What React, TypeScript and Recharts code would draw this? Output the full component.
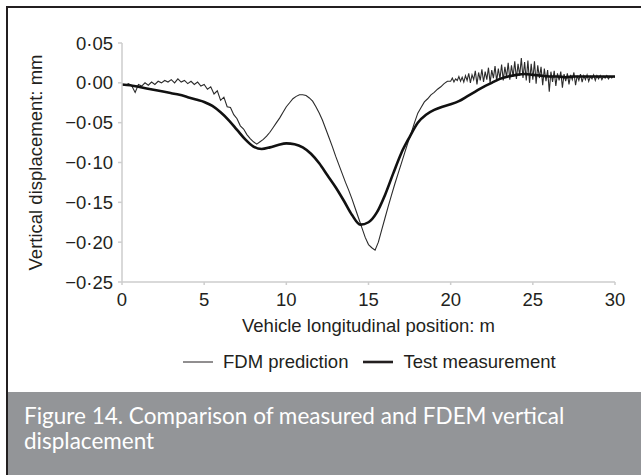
import { LineChart, Line, XAxis, YAxis, Legend, Label } from "recharts";

// FDM prediction, part 1: 0 – 19.8 m every 0.2 m
const fdmStartA = 0;
const fdmStepA = 0.2;
const fdmValuesA = [
  -0.002, -0.003, -0.001, -0.004, -0.012, -0.002, -0.004, 0.000, -0.003, 0.001,
  -0.002, 0.002, 0.000, 0.003, 0.001, 0.004, 0.000, 0.005, 0.001, 0.003,
  -0.001, 0.002, -0.002, 0.001, -0.004, -0.002, -0.008, -0.005, -0.014, -0.010,
  -0.022, -0.018, -0.030, -0.031, -0.040, -0.045, -0.054, -0.058, -0.065, -0.070,
  -0.074, -0.077, -0.074, -0.071, -0.067, -0.062, -0.056, -0.050, -0.044, -0.037,
  -0.030, -0.025, -0.020, -0.017, -0.015, -0.015, -0.016, -0.019, -0.023, -0.030,
  -0.038, -0.047, -0.058, -0.069, -0.080, -0.092, -0.103, -0.114, -0.125, -0.135,
  -0.146, -0.158, -0.170, -0.182, -0.194, -0.203, -0.207, -0.210, -0.200, -0.185,
  -0.170, -0.155, -0.141, -0.127, -0.114, -0.101, -0.088, -0.075, -0.063, -0.050,
  -0.038, -0.031, -0.024, -0.020, -0.015, -0.012, -0.008, -0.005, -0.001, 0.002,
];

// FDM prediction, part 2: 20 – 30 m every 0.1 m (noisy tail)
const fdmStartB = 20;
const fdmStepB = 0.1;
const fdmValuesB = [
  0.002, 0.006, 0.001, 0.005, 0.003, 0.008, 0.002, 0.007, 0.001, 0.009,
  0.003, 0.012, 0.000, 0.010, 0.004, 0.015, -0.002, 0.013, 0.003, 0.017,
  0.001, 0.014, 0.004, 0.019, 0.000, 0.016, 0.006, 0.021, 0.002, 0.018,
  0.005, 0.023, 0.003, 0.020, 0.007, 0.025, 0.004, 0.022, 0.008, 0.027,
  0.005, 0.024, 0.009, 0.031, 0.006, 0.026, 0.003, 0.028, 0.000, 0.024,
  0.004, 0.027, -0.001, 0.022, 0.006, 0.020, -0.003, 0.018, 0.002, 0.016,
  -0.011, 0.014, 0.001, 0.015, -0.004, 0.012, 0.003, 0.014, -0.006, 0.011,
  0.002, 0.012, -0.002, 0.010, 0.004, 0.013, -0.003, 0.009, 0.003, 0.011,
  0.001, 0.009, 0.004, 0.010, 0.002, 0.008, 0.005, 0.010, 0.003, 0.009,
  0.005, 0.009, 0.004, 0.008, 0.006, 0.009, 0.005, 0.008, 0.006, 0.008,
  0.007,
];

// Test measurement, every 0.5 m
const testStep = 0.5;
const testValues = [
  -0.002, -0.003, -0.005, -0.007, -0.009, -0.011, -0.013, -0.015, -0.018, -0.021,
  -0.024, -0.029, -0.037, -0.047, -0.059, -0.071, -0.080, -0.083, -0.081, -0.078,
  -0.076, -0.077, -0.081, -0.089, -0.101, -0.116, -0.131, -0.148, -0.166, -0.178,
  -0.175, -0.163, -0.141, -0.114, -0.088, -0.068, -0.050, -0.040, -0.034, -0.030,
  -0.027, -0.023, -0.017, -0.011, -0.005, 0.000, 0.005, 0.008, 0.010, 0.011,
  0.010, 0.009, 0.008, 0.008, 0.007, 0.008, 0.008, 0.008, 0.008, 0.008,
  0.008,
];

const xTicks = [0, 5, 10, 15, 20, 25, 30];
const yTicks = [0.05, 0, -0.05, -0.1, -0.15, -0.2, -0.25];

const fdmData = [
  ...fdmValuesA.map((v, i) => ({ x: +(fdmStartA + i * fdmStepA).toFixed(1), y: v })),
  ...fdmValuesB.map((v, i) => ({ x: +(fdmStartB + i * fdmStepB).toFixed(1), y: v })),
];
const testData = testValues.map((v, i) => ({ x: +(i * testStep).toFixed(1), y: v }));

const font = "'Liberation Sans', Arial, sans-serif";
const fs = 18.5;
const ink = "#231f20";
const tick = { fill: ink, fontSize: fs, fontFamily: font };

const fmtY = (v: number) => {
  const s = Math.abs(v).toFixed(2).replace(".", "·");
  return v < -1e-9 ? "−" + s : s;
};

const legendItems = [
  { name: "FDM prediction", width: 1 },
  { name: "Test measurement", width: 2.6 },
];

const renderLegend = () => (
  <div style={{ display: "flex", alignItems: "center", height: 24, fontFamily: font, fontSize: fs, color: ink }}>
    {legendItems.map((it, i) => (
      <div key={it.name} style={{ display: "flex", alignItems: "center", marginRight: i === 0 ? 15 : 0 }}>
        <svg width={30} height={24} style={{ marginRight: 10 }}>
          <line x1={0} y1={12} x2={30} y2={12} stroke={ink} strokeWidth={it.width} />
        </svg>
        <span style={{ lineHeight: "24px" }}>{it.name}</span>
      </div>
    ))}
  </div>
);

export default function App() {
  return (
    <div style={{ position: "relative", width: 641, height: 475, background: "#fff", overflow: "hidden" }}>
      <style>{"body{margin:0}"}</style>
      <div style={{ position: "absolute", left: 0, top: 0 }}>
        <LineChart width={641} height={392} margin={{ top: 43, right: 26, left: 10, bottom: 18 }}>
          <XAxis
            type="number" dataKey="x" domain={[0, 30]} ticks={xTicks} allowDataOverflow
            tick={tick} tickSize={3} tickMargin={8} height={68}
            stroke="#cdcdcd" strokeWidth={1.5}
          >
            <Label value="Vehicle longitudinal position: m" position="insideBottom" offset={18}
              style={{ fill: ink, fontSize: fs, fontFamily: font }} />
          </XAxis>
          <YAxis
            type="number" dataKey="y" domain={[-0.25, 0.05]} ticks={yTicks} allowDataOverflow
            tick={tick} tickSize={4} tickMargin={5} width={112} tickFormatter={fmtY}
            stroke="#cdcdcd" strokeWidth={1.5}
          >
            <Label value="Vertical displacement: mm" angle={-90} position="insideLeft" offset={25}
              style={{ fill: ink, fontSize: fs, fontFamily: font, textAnchor: "middle" }} />
          </YAxis>
          <Legend verticalAlign="bottom" content={renderLegend} wrapperStyle={{ left: 183, width: 430 }} />
          <Line data={fdmData} dataKey="y" name="FDM prediction" type="linear" stroke="#2b2b2b"
            strokeWidth={1.1} dot={false} isAnimationActive={false} />
          <Line data={testData} dataKey="y" name="Test measurement" type="monotone" stroke="#111"
            strokeWidth={2.6} dot={false} isAnimationActive={false} />
        </LineChart>
      </div>
      <div style={{ position: "absolute", left: 6, top: 6, width: 635, height: 469, borderTop: `2.5px solid ${ink}`, borderLeft: `2.5px solid ${ink}`, boxSizing: "border-box", pointerEvents: "none" }} />
      <div style={{ position: "absolute", left: 8, top: 392, width: 633, height: 83, background: "#939598", color: "#fff", fontFamily: "Lato, 'Open Sans', sans-serif", fontSize: 22.5, lineHeight: "24.5px", padding: "12px 16px 0 16px", boxSizing: "border-box" }}>
        Figure 14. Comparison of measured and FDEM vertical displacement
      </div>
    </div>
  );
}
